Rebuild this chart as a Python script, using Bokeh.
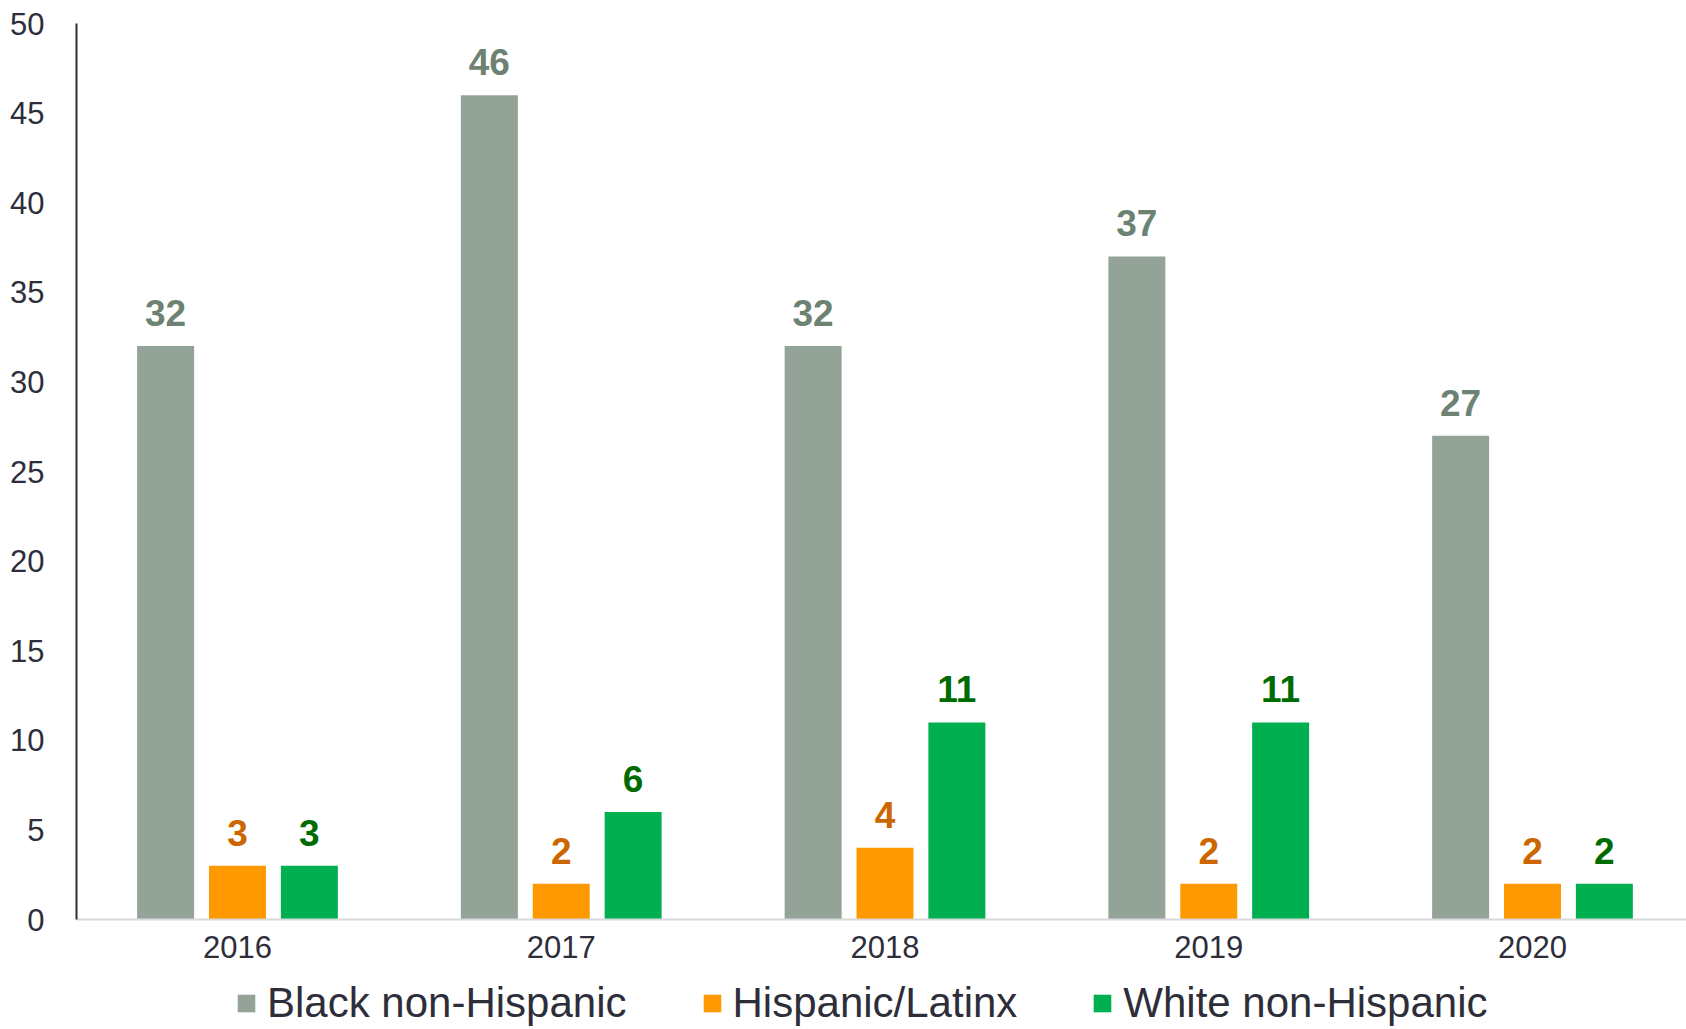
from bokeh.plotting import figure
from bokeh.layouts import column
from bokeh.models import (ColumnDataSource, Range1d, SingleIntervalTicker, FixedTicker,
                          LabelSet, Legend, LegendItem)
from bokeh.core.properties import value
from bokeh.transform import dodge
from bokeh.embed import file_html
from bokeh.resources import INLINE

years = [2016, 2017, 2018, 2019, 2020]
black = [32, 46, 32, 37, 27]
hispanic = [3, 2, 4, 2, 2]
white = [3, 6, 11, 11, 2]
series_names = ["Black non-Hispanic", "Hispanic/Latinx", "White non-Hispanic"]

bar_colors = ["#93A398", "#FF9900", "#00B050"]
label_colors = ["#6E8273", "#CC6600", "#006B00"]
offsets = [-0.222, 0.0, 0.222]
cols = ["black", "hispanic", "white"]
FONT = "Liberation Sans"

src = ColumnDataSource(dict(year=years, black=black, hispanic=hispanic, white=white,
                            black_t=[str(v) for v in black],
                            hispanic_t=[str(v) for v in hispanic],
                            white_t=[str(v) for v in white]))

MAIN_H = 967
p = figure(width=1686, height=MAIN_H, output_backend="svg", toolbar_location=None,
           x_range=Range1d(2015.5027, 2020.4757), y_range=Range1d(0, 50),
           min_border_left=76, min_border_top=23, min_border_right=0, min_border_bottom=48)
p.outline_line_color = None
p.xgrid.visible = False
p.ygrid.visible = False
p.background_fill_color = "white"
p.border_fill_color = "white"

for col, color, lcolor, off in zip(cols, bar_colors, label_colors, offsets):
    p.vbar(x=dodge("year", off), top=col, bottom=0, width=0.176, source=src,
           fill_color=color, line_color=None)
    labels = LabelSet(x=dodge("year", off), y=col, text=col + "_t", source=src,
                      text_align="center", text_baseline="alphabetic", y_offset=20,
                      text_font=value(FONT), text_font_size=value("37px"),
                      text_font_style=value("bold"), text_color=value(lcolor))
    p.add_layout(labels)

# axes
p.xaxis.ticker = FixedTicker(ticks=years)
p.xaxis.axis_line_color = "#D9D9DE"
p.xaxis.axis_line_width = 2
p.xaxis.major_tick_line_color = None
p.xaxis.minor_tick_line_color = None
p.xaxis.major_tick_out = 0
p.xaxis.major_tick_in = 0
p.xaxis.major_label_standoff = 16
p.xaxis.major_label_text_font = FONT
p.xaxis.major_label_text_font_size = "31px"
p.xaxis.major_label_text_color = "#2E2E3A"

p.yaxis.ticker = SingleIntervalTicker(interval=5)
p.yaxis.axis_line_color = "#2E2E3A"
p.yaxis.axis_line_width = 2
p.yaxis.major_tick_line_color = None
p.yaxis.minor_tick_line_color = None
p.yaxis.major_tick_out = 0
p.yaxis.major_tick_in = 0
p.yaxis.major_label_standoff = 28
p.yaxis.major_label_text_font = FONT
p.yaxis.major_label_text_font_size = "31px"
p.yaxis.major_label_text_color = "#2E2E3A"

# legend strip below the chart (series swatches come from the same bar styles)
LEG_H = 1029 - MAIN_H
lg = figure(width=1686, height=LEG_H, output_backend="svg", toolbar_location=None,
            x_range=Range1d(0, 1), y_range=Range1d(1000, 1001),
            x_axis_location=None, y_axis_location=None, min_border=0)
lg.outline_line_color = None
lg.xgrid.visible = False
lg.ygrid.visible = False
leg_renderers = []
for col, color, off in zip(cols, bar_colors, offsets):
    leg_renderers.append(lg.vbar(x=dodge("year", off), top=col, bottom=0, width=0.176,
                                 source=src, fill_color=color, line_color=None))

legend = Legend(items=[LegendItem(label=n, renderers=[r]) for n, r in zip(series_names, leg_renderers)],
                orientation="horizontal", location=(159, 2),
                label_text_font=FONT, label_text_font_size="42px", label_text_color="#2E2E3A",
                glyph_width=22, glyph_height=22, label_standoff=10, spacing=74,
                padding=0, margin=0, border_line_color=None, background_fill_alpha=0)
lg.add_layout(legend)

layout = column(p, lg, spacing=0)
open("out.html", "w").write(file_html(layout, INLINE))
